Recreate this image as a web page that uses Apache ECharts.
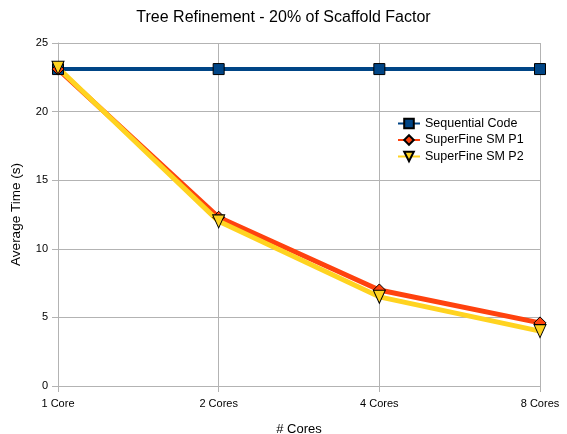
<!DOCTYPE html>
<html><head><meta charset="utf-8">
<script src="https://cdn.jsdelivr.net/npm/echarts@6/dist/echarts.min.js"></script>
<style>html,body{margin:0;padding:0;background:#fff;overflow:hidden}#c{width:567px;height:434px}</style>
</head><body><div id="c"></div>
<script>
const categories = ["1 Core", "2 Cores", "4 Cores", "8 Cores"];
const sequential = [23.1, 23.1, 23.1, 23.1];
const p1 = [23.1, 12.3, 7.0, 4.6];
const p2 = [23.2, 12.0, 6.5, 4.0];
const yTicks = [0, 5, 10, 15, 20, 25];

const chart = echarts.init(document.getElementById('c'));
const font = 'Liberation Sans, Arial, sans-serif';
chart.setOption({
  animation: false,
  title: { text: 'Tree Refinement - 20% of Scaffold Factor', left: 'center', top: 5,
    textStyle: { fontFamily: font, fontSize: 16, fontWeight: 'normal', color: '#000' } },
  grid: { left: 58, right: 27, top: 43, bottom: 48, containLabel: false, outerBoundsMode: 'none' },
  legend: { orient: 'vertical', left: 392, top: 112, itemGap: 3.5, itemWidth: 22, itemHeight: 12,
    textStyle: { fontFamily: font, fontSize: 12.5, color: '#000' },
    data: ['Sequential Code', 'SuperFine SM P1', 'SuperFine SM P2'] },
  xAxis: { type: 'category', data: categories, boundaryGap: false,
    name: '# Cores', nameLocation: 'middle', nameGap: 37,
    nameTextStyle: { fontFamily: font, fontSize: 13, color: '#000' },
    axisLine: { lineStyle: { color: '#b3b3b3' } },
    axisTick: { show: true, length: 6, lineStyle: { color: '#b3b3b3' } },
    axisLabel: { fontFamily: font, fontSize: 11, color: '#000', margin: 12 },
    splitLine: { show: true, lineStyle: { color: '#b3b3b3' } } },
  yAxis: { type: 'value', min: yTicks[0], max: yTicks[yTicks.length - 1], interval: 5,
    name: 'Average Time (s)', nameLocation: 'middle', nameGap: 35,
    nameTextStyle: { fontFamily: font, fontSize: 13.5, color: '#000' },
    axisLine: { show: true, lineStyle: { color: '#b3b3b3' } },
    axisTick: { show: true, length: 6, lineStyle: { color: '#b3b3b3' } },
    axisLabel: { fontFamily: font, fontSize: 11, color: '#000', margin: 10 },
    splitLine: { show: true, lineStyle: { color: '#b3b3b3' } } },
  series: [
    { name: 'Sequential Code', type: 'line', data: sequential, symbol: 'rect', symbolSize: 11,
      lineStyle: { color: '#004586', width: 4 },
      itemStyle: { color: '#004586', borderColor: '#000', borderWidth: 1 } },
    { name: 'SuperFine SM P1', type: 'line', data: p1, symbol: 'diamond', symbolSize: 12,
      lineStyle: { color: '#ff420e', width: 5 },
      itemStyle: { color: '#ff420e', borderColor: '#000', borderWidth: 1 } },
    { name: 'SuperFine SM P2', type: 'line', data: p2,
      symbol: 'path://M0,0 L10,0 L5,12 Z', symbolSize: [12, 13],
      lineStyle: { color: '#ffd320', width: 5 },
      itemStyle: { color: '#ffd320', borderColor: '#000', borderWidth: 1 } }
  ]
});
</script></body></html>
